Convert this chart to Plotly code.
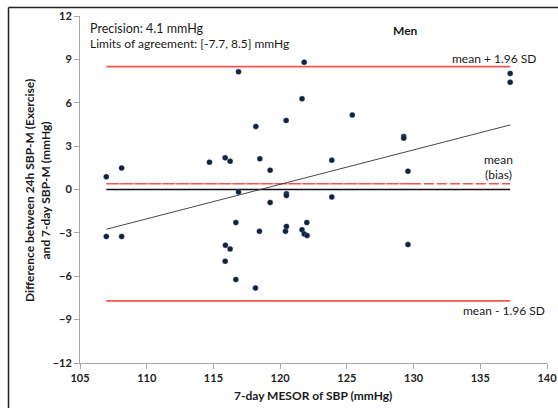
import numpy as np
import plotly.graph_objects as go

# 7-day MESOR of SBP (mmHg) for each man
mesor_7day = [106.97, 108.12, 106.97, 108.12, 114.70, 116.88, 121.80, 121.64,
              120.45, 118.18, 115.88, 116.25, 118.48, 119.25, 123.87, 116.88,
              120.47, 120.47, 123.87, 119.25, 116.68, 118.45, 120.47, 120.40,
              122.00, 121.64, 121.80, 122.02, 115.90, 116.25, 115.88, 116.68,
              118.15, 125.41, 129.26, 129.26, 129.58, 129.58, 137.24, 137.24]

# Difference between 24h SBP-M (Exercise) and 7-day SBP-M (mmHg)
difference = [0.88, 1.48, -3.25, -3.25, 1.89, 8.15, 8.80, 6.28,
              4.78, 4.36, 2.19, 1.96, 2.12, 1.34, 2.03, -0.18,
              -0.30, -0.42, -0.52, -0.90, -2.29, -2.89, -2.56, -2.89,
              -2.29, -2.79, -3.07, -3.19, -3.85, -4.11, -4.96, -6.23,
              -6.81, 5.15, 3.67, 3.55, 1.27, -3.81, 8.03, 7.41]

# Bland-Altman summary statistics
mean_bias = 0.4
loa_lower = -7.7
loa_upper = 8.5
precision = 4.1

x_ticks = [105, 110, 115, 120, 125, 130, 135, 140]
y_ticks = [-12, -9, -6, -3, 0, 3, 6, 9, 12]

FONT = "Lato, 'Open Sans', sans-serif"
RED = "#f2554d"
DOT = "#14213d"

x_min, x_max = min(mesor_7day), max(mesor_7day)
x_split = 129.8  # mean line changes to a coarser dash beyond this point

fig = go.Figure()

# limits of agreement
for level in (loa_upper, loa_lower):
    fig.add_trace(go.Scatter(x=[x_min, x_max], y=[level, level], mode="lines",
                             line=dict(color=RED, width=1.6), hoverinfo="skip"))

# zero reference
fig.add_trace(go.Scatter(x=[x_min, x_max], y=[0, 0], mode="lines",
                         line=dict(color="#111111", width=1.4), hoverinfo="skip"))

# mean difference (bias)
fig.add_trace(go.Scatter(x=[x_min, x_split], y=[mean_bias, mean_bias], mode="lines",
                         line=dict(color=RED, width=1.6, dash="13px,1px"), hoverinfo="skip"))
fig.add_trace(go.Scatter(x=[x_split, x_max], y=[mean_bias, mean_bias], mode="lines",
                         line=dict(color=RED, width=1.6, dash="10px,3px"), hoverinfo="skip"))

# linear trend of difference against MESOR
slope, intercept = np.polyfit(mesor_7day, difference, 1)
trend_x = np.array([x_min, x_max])
fig.add_trace(go.Scatter(x=trend_x, y=slope * trend_x + intercept, mode="lines",
                         line=dict(color="#333333", width=0.9), hoverinfo="skip"))

# individual subjects
fig.add_trace(go.Scatter(x=mesor_7day, y=difference, mode="markers",
                         marker=dict(color=DOT, size=5.5,
                                     line=dict(color="rgba(120,150,200,0.5)", width=0.6))))

L, R, T, B = 80, 11, 16, 45
PW, PH = 558 - L - R, 408 - T - B


def px_x(px):
    return (px - L) / PW


def px_y(py):
    return 1 - (py - T) / PH


txt = dict(family=FONT, size=12, color="#1a1a1a")


def label(x, y, text, anchor="left", **kw):
    return dict(xref="paper", yref="paper", x=px_x(x), y=px_y(y), text=text,
                showarrow=False, xanchor=anchor, yanchor="middle",
                font=kw.pop("font", txt), **kw)


ann = [
    label(88, 28, "Precision: %.1f mmHg" % precision,
          font=dict(family=FONT, size=12.5, color="#1a1a1a")),
    label(88, 44, "Limits of agreement: [%.1f, %.1f] mmHg" % (loa_lower, loa_upper)),
    label(405, 30, "<b>Men</b>", "center"),
    label(538, 59, "mean + 1.96 SD", "right"),
    label(498, 160, "mean", "center"),
    label(498, 174, "(bias)", "center"),
    label(547, 310, "mean - 1.96 SD", "right"),
    # axis titles
    label(313, 395, "<b>7-day MESOR of SBP (mmHg)</b>", "center"),
    label(37, 191, "<b>Difference between 24h SBP-M (Exercise)<br>and 7-day SBP-M (mmHg)</b>",
          "center", textangle=-90),
]

axis_style = dict(ticks="outside", ticklen=5, tickcolor="#a6a6a6", showline=True,
                  linecolor="#a6a6a6", linewidth=1, showgrid=False, zeroline=False,
                  automargin=False,
                  tickfont=dict(family=FONT, size=11, color="#222222", weight="bold"))

fig.update_layout(
    width=558, height=408,
    margin=dict(l=L, r=R, t=T, b=B),
    paper_bgcolor="white", plot_bgcolor="white",
    showlegend=False,
    annotations=ann,
    shapes=[
        # frame around the figure
        dict(type="line", xref="paper", yref="paper",
             x0=px_x(8.5), x1=px_x(600), y0=px_y(7.5), y1=px_y(7.5),
             line=dict(color="#222222", width=1.5)),
        dict(type="line", xref="paper", yref="paper",
             x0=px_x(8.5), x1=px_x(8.5), y0=px_y(7.5), y1=px_y(420),
             line=dict(color="#222222", width=1.5)),
    ],
    xaxis=dict(range=[105, 140], tickvals=x_ticks, **axis_style),
    yaxis=dict(range=[-12, 12], tickvals=y_ticks, **axis_style),
)

fig.write_html("out.html")
